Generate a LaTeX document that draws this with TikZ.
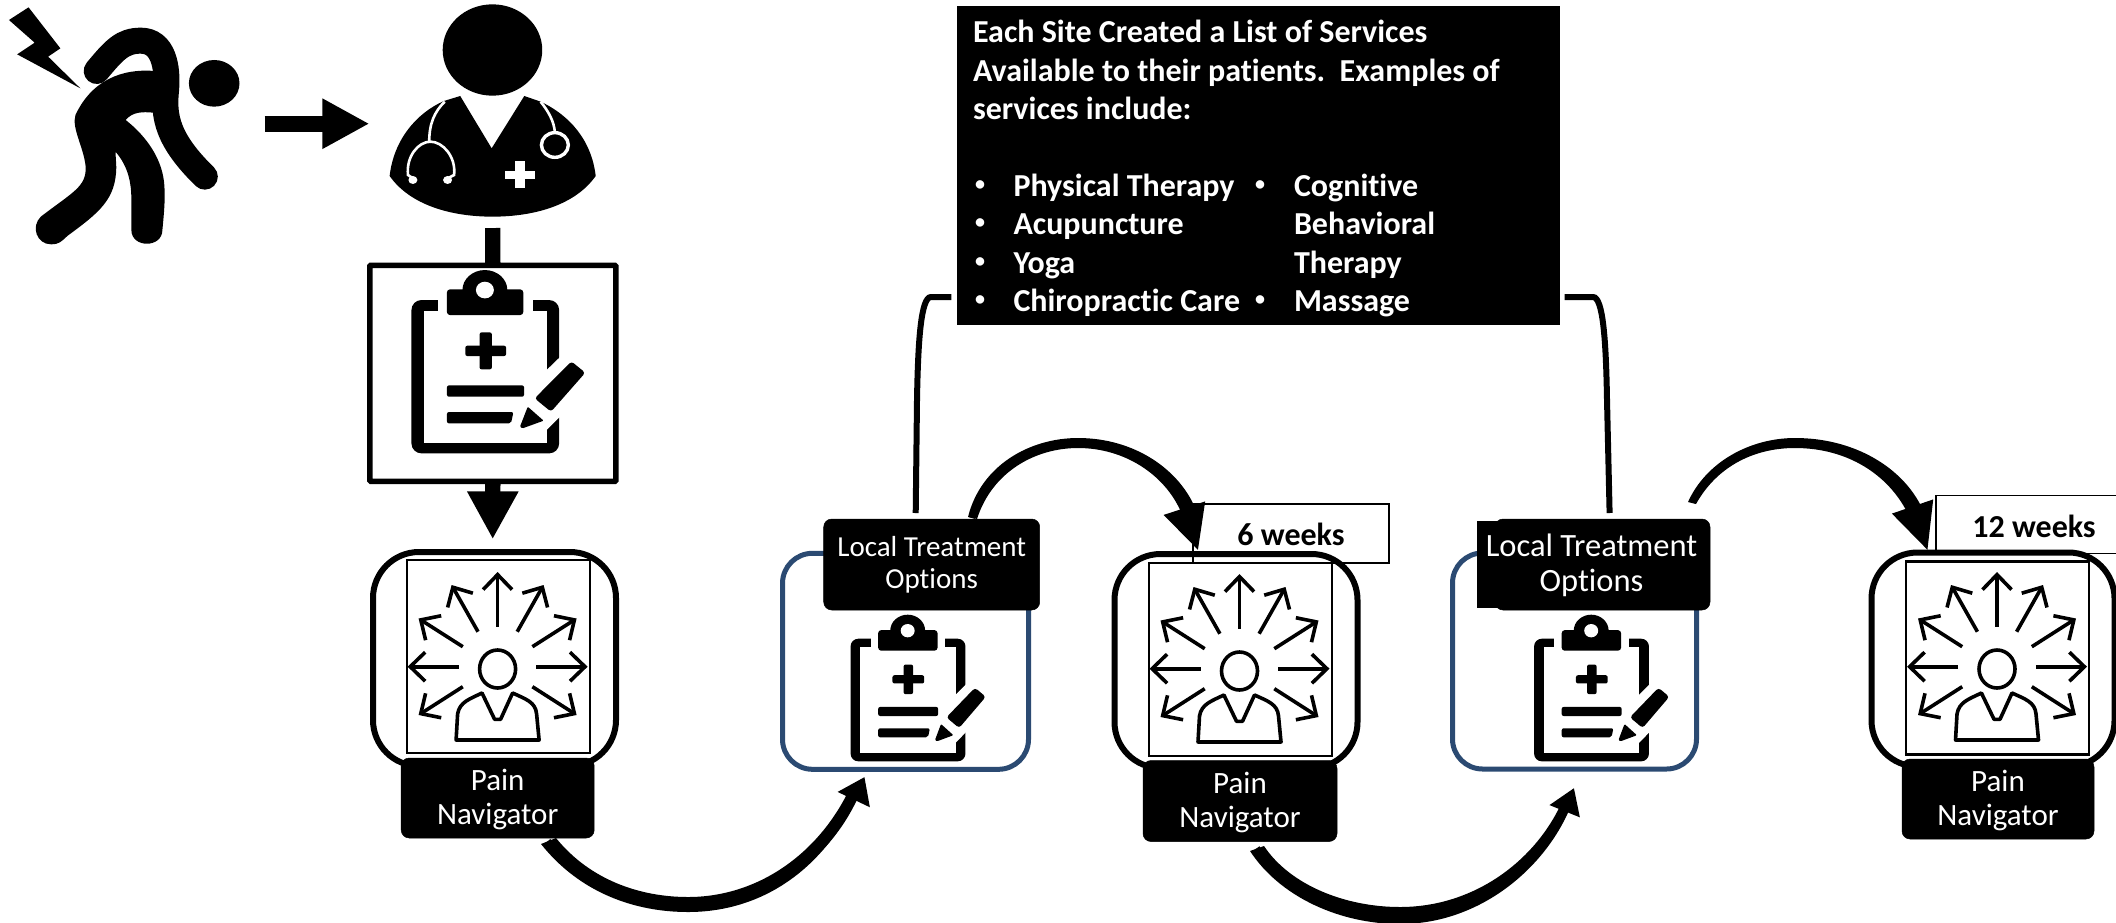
\documentclass[tikz,border=0pt]{standalone}
\usepackage{fontspec}
\setmainfont{Carlito}[Ligatures=NoCommon]
\usetikzlibrary{arrows.meta,shapes.geometric}
\definecolor{navyline}{HTML}{2B4A72}
\tikzset{
  blackbox/.style={draw=black,fill=black,text=white,rounded corners=8pt,inner sep=0pt,outer sep=0pt,align=center,line width=0.5pt},
  navframe/.style={draw=black,line width=6pt,rounded corners=46pt,inner sep=0pt,outer sep=0pt},
  blueframe/.style={draw=navyline,line width=5pt,rounded corners=30pt,inner sep=0pt,outer sep=0pt},
  iconrect/.style={draw=black,line width=2.2pt,inner sep=0pt,outer sep=0pt},
  weekbox/.style={draw=black,fill=white,line width=1.6pt,inner sep=0pt,outer sep=0pt},
  listtext/.style={text=white,font=\fontsize{32}{36}\selectfont\bfseries,anchor=base west,inner sep=0pt,outer sep=0pt},
  bullettext/.style={text=white,font=\fontsize{20}{24}\selectfont\bfseries,anchor=base west,inner sep=0pt,outer sep=0pt},
  flow/.style={draw=black,line width=6pt},
  navline/.style={line width=3.6pt,draw=black,-{Straight Barb[length=15pt,width=29pt,line width=3.6pt]}},
  bracket/.style={draw=black,line width=6pt},
}
\newcommand{\clipicon}[4]{%
\begin{scope}[shift={(#1,#2)},x=#3*0.408pt,y=-#4*0.3333pt]
 \begin{scope}[shift={(-1189,-1130)}]
  \fill[black,rounded corners=10pt*#3] (1008,900) rectangle (1370,1360);
  \fill[white] (1038,933) rectangle (1340,1328);
  \fill[white] (1072,890) rectangle (1306,945);
  \fill[white] (1335,1115) -- (1378,1064) -- (1378,1243) -- (1335,1295) -- cycle;
  \fill[black,rounded corners=3pt] (1095,868) rectangle (1282,945);
  \fill[black] (1188,870) ellipse (55 and 60);
  \fill[white] (1188,870) ellipse (22 and 25);
  \fill[black,rounded corners=2pt] (1140,1037) rectangle (1240,1068);
  \fill[black,rounded corners=2pt] (1175,997) rectangle (1205,1108);
  \fill[black,rounded corners=2pt] (1095,1156) rectangle (1284,1190);
  \fill[black,rounded corners=2pt] (1095,1236) -- (1258,1236) -- (1252,1270) -- (1095,1270) -- cycle;
  \fill[black,rounded corners=3pt] (1310,1195) -- (1400,1084) -- (1434,1118) -- (1350,1235) -- cycle;
  \fill[black,rounded corners=1pt] (1293,1220) -- (1332,1262) -- (1280,1285) -- (1274,1280) -- cycle;
 \end{scope}
\end{scope}}
\newcommand{\navicon}[2]{%
\begin{scope}[shift={(#1,#2)}]
  \draw[line width=3.6pt] (0,0) ellipse (18 and 19);
  \draw[line width=3.6pt,line join=round] (-41.5,71) -- (-40,45) .. controls (-38,33) and (-28,30) .. (-15.6,24) -- (-3,50.3) -- (3,50.3) -- (15,24) .. controls (28,30) and (38,33) .. (39,45) -- (41.5,71) -- cycle;
  \draw[navline] (0,-42.3) -- (0,-97);
  \draw[navline] (19.6,-37.3) -- (46,-84);
  \draw[navline] (-19.6,-37.3) -- (-46,-84);
  \draw[navline] (34.8,-22.3) -- (79,-50.5);
  \draw[navline] (-34.8,-22.3) -- (-79,-50.5);
  \draw[navline] (38.8,-2.3) -- (90,-2.3);
  \draw[navline] (-38.8,-2.3) -- (-90,-2.3);
  \draw[navline] (34.8,17.7) -- (79,46);
  \draw[navline] (-34.8,17.7) -- (-79,46);
\end{scope}}
\begin{document}
\begin{tikzpicture}[x=1pt,y=-1pt]
\useasboundingbox (0,0) rectangle (2116,922);
\clip (0,0) rectangle (2116,922);
\fill[white] (0,0) rectangle (2116,922);

\begin{scope}[x=0.408pt,y=-0.3333pt]
  \fill[black] (22,60) -- (70,22) -- (148,145) -- (118,170) -- (197,265) -- (42,163) -- (85,128) -- cycle;
  \fill[black] (525,250) ellipse (62 and 70);
  \fill[black] (378,213) .. controls (300,205) and (225,240) .. (185,345)
     .. controls (175,385) and (205,440) .. (210,500)
     .. controls (212,560) and (180,575) .. (100,650)
     .. controls (75,680) and (90,733) .. (125,733)
     .. controls (145,733) and (150,725) .. (165,708)
     .. controls (240,640) and (285,600) .. (285,500) -- (283,455)
     .. controls (315,500) and (322,550) .. (322,600) -- (322,690)
     .. controls (322,745) and (398,745) .. (398,690)
     .. controls (402,640) and (405,600) .. (403,560)
     .. controls (400,480) and (360,410) .. (308,360)
     .. controls (325,335) and (350,335) .. (375,338) -- cycle;
  \draw[black,line width=26pt,line cap=round] (237,213) .. controls (280,150) and (300,122) .. (345,122)
     .. controls (400,122) and (412,200) .. (407,270)
     .. controls (400,350) and (410,420) .. (502,530);
\end{scope}
\coordinate (painout) at (264.5,123.7);

\begin{scope}[x=0.408pt,y=-0.3333pt]
  \fill[black] (1207,150) ellipse (122 and 137);
  \fill[black] (955,528) .. controls (965,420) and (1020,340) .. (1088,303) -- (1128,288) -- (1205,445) -- (1285,288) -- (1325,305)
     .. controls (1395,345) and (1450,420) .. (1460,528)
     .. controls (1410,615) and (1310,650) .. (1207,650)
     .. controls (1105,650) and (1005,615) .. (955,528) -- cycle;
  \draw[white,line width=2.6pt] (1090,305) .. controls (1065,335) and (1052,370) .. (1052,425);
  \draw[white,line width=2.6pt] (1012,535) -- (1000,525) .. controls (995,470) and (1025,425) .. (1055,425)
     .. controls (1085,425) and (1118,470) .. (1113,525) -- (1097,535);
  \fill[white] (1012,540) ellipse (11 and 12);
  \fill[white] (1097,540) ellipse (11 and 12);
  \draw[white,line width=2.6pt] (1325,305) .. controls (1345,335) and (1358,365) .. (1360,397);
  \draw[white,line width=3.4pt] (1360,435) ellipse (33 and 37);
  \fill[white] (1238,512) rectangle (1312,536);
  \fill[white] (1263,483) rectangle (1287,564);
\end{scope}
\coordinate (doctorin) at (369.4,123.7);
\coordinate (doctorout) at (492.7,228);
\draw[black,line width=16pt,-{Triangle[length=47pt,width=47pt]}] (painout) -- (doctorin);

\node[draw=black,line width=5.5pt,minimum width=246pt,minimum height=216pt,inner sep=0pt,outer sep=0pt,rounded corners=1pt] (assess) at (492.8,373.3) {};
\clipicon{485.3}{376.7}{1}{1}
\draw[black,line width=15.4pt] (doctorout) -- (assess.north);
\coordinate (nav1in) at (492.7,539.3);
\draw[black,line width=15.4pt,-{Triangle[length=48pt,width=48pt]}] (assess.south) -- (nav1in);

\node[weekbox,minimum width=196pt,minimum height=59pt] (week6) at (1291,533.5) {};
\node[weekbox,minimum width=190pt,minimum height=58pt] (week12) at (2031,524.5) {};
\node[font=\fontsize{32}{36}\selectfont\bfseries,inner sep=0pt] (week6t) at (1291,534) {6 weeks};
\node[font=\fontsize{32}{36}\selectfont\bfseries,inner sep=0pt] (week12t) at (2034,526.5) {12 weeks};

\node[navframe,minimum width=243pt,minimum height=214pt] (nav1) at (494.5,659) {};
\node[navframe,minimum width=243pt,minimum height=214pt] (nav2) at (1236,661) {};
\node[navframe,minimum width=243pt,minimum height=214pt] (nav3) at (1993,659.5) {};
\node[iconrect,fill=white,minimum width=183pt,minimum height=193pt] (nav1i) at (498.5,656.5) {};
\node[iconrect,fill=white,minimum width=183pt,minimum height=193pt] (nav2i) at (1240.5,659.5) {};
\node[iconrect,fill=white,minimum width=183pt,minimum height=193pt] (nav3i) at (1997.5,658) {};
\navicon{497.6}{669}
\navicon{1239.5}{671}
\navicon{1997}{669}
\node[blackbox,minimum width=193pt,minimum height=80pt] (nav1l) at (497.7,798) {};
\node[blackbox,minimum width=194pt,minimum height=81pt] (nav2l) at (1240,801) {};
\node[blackbox,minimum width=192pt,minimum height=80pt] (nav3l) at (1998,799) {};
\node[text=white,align=center,inner sep=0pt,font=\fontsize{31}{34}\selectfont] (nav1t) at (497.7,799) {Pain\\Navigator};
\node[text=white,align=center,inner sep=0pt,font=\fontsize{31}{34}\selectfont] (nav2t) at (1240,802) {Pain\\Navigator};
\node[text=white,align=center,inner sep=0pt,font=\fontsize{31}{34}\selectfont] (nav3t) at (1998,800) {Pain\\Navigator};

\node[blueframe,minimum width=246pt,minimum height=216pt] (opt1) at (905.5,661.3) {};
\node[blueframe,minimum width=244pt,minimum height=216pt] (opt2) at (1574.5,661) {};
\clipicon{908}{700}{0.778}{0.80}
\clipicon{1591.5}{700}{0.778}{0.80}
\node[blackbox,minimum width=216pt,minimum height=91pt,font=\fontsize{29}{32}\selectfont] (lto1) at (931.7,564.5) {Local Treatment\\Options};
\fill[black] (1477,521) rectangle (1500,608);
\node[blackbox,minimum width=215pt,minimum height=91pt] (lto2) at (1602.5,564.5) {};
\node[text=white,align=center,inner sep=0pt,font=\fontsize{32.5}{35}\selectfont] (lto2t) at (1591.5,565) {Local Treatment\\Options};

\node[fill=black,minimum width=603pt,minimum height=319.5pt,inner sep=0pt,outer sep=0pt] (services) at (1258,165.4) {};
\node[listtext] (s1) at (973,42.5) {Each Site Created a List of Services};
\node[listtext] (s2) at (973,81) {Available to their patients.\ \ Examples of};
\node[listtext] (s3) at (973,119) {services include:};
\node[bullettext] (b1) at (975,190) {•};
\node[bullettext] (b2) at (975,228) {•};
\node[bullettext] (b3) at (975,267) {•};
\node[bullettext] (b4) at (975,305) {•};
\node[listtext] (l1) at (1013.5,196) {Physical Therapy};
\node[listtext] (l2) at (1013.5,234) {Acupuncture};
\node[listtext] (l3) at (1013.5,273) {Yoga};
\node[listtext] (l4) at (1013.5,311) {Chiropractic Care};
\node[bullettext] (b5) at (1255,190) {•};
\node[bullettext] (b6) at (1255,305) {•};
\node[listtext] (r1) at (1294,196) {Cognitive};
\node[listtext] (r2) at (1294,234) {Behavioral};
\node[listtext] (r3) at (1294,273) {Therapy};
\node[listtext] (r4) at (1294,311) {Massage};

\coordinate (lt1up) at (915.7,513);
\coordinate (sl) at (951.4,297);
\coordinate (lt2up) at (1609.6,513);
\coordinate (sr) at (1564.7,297);
\draw[bracket] (lt1up) -- (917,400) .. controls (918,340) and (921,297) .. (931,297) -- (sl);
\draw[bracket] (lt2up) -- (1607,400) .. controls (1606,340) and (1603,297) .. (1593,297) -- (sr);

\coordinate (a1s) at (548,841);\coordinate (a1e) at (864.5,777);
\coordinate (a2s) at (972,518);\coordinate (a2e) at (1198,550);
\coordinate (a3s) at (1257,848);\coordinate (a3e) at (1574,788);
\coordinate (a4s) at (1692,502);\coordinate (a4e) at (1927.5,550);
\draw[flow,-{Triangle[length=25pt,width=34pt]}] (a1s) .. controls (585,885) and (635,904) .. (688,904) .. controls (765,904) and (825,860) .. (a1e);
\fill[black] (541,844) .. controls (580,893) and (635,912) .. (688,912) .. controls (765,912) and (825,866) .. (856,798) -- (847,794) .. controls (816,855) and (757,897) .. (688,897) .. controls (640,897) and (590,880) .. (556,838) -- cycle;
\draw[flow,-{Triangle[length=44pt,width=42pt]}] (a2s) .. controls (985,470) and (1030,443) .. (1078,443) .. controls (1130,443) and (1172,470) .. (a2e);
\fill[black] (968,517) .. controls (981,465) and (1030,438) .. (1078,438) .. controls (1135,438) and (1180,470) .. (1196,510) -- (1181,512) .. controls (1165,475) and (1125,448) .. (1078,448) .. controls (1035,448) and (992,472) .. (977,519) -- cycle;
\draw[flow,-{Triangle[length=25pt,width=31pt]}] (a3s) .. controls (1285,890) and (1340,914) .. (1400,914) .. controls (1480,914) and (1545,860) .. (a3e);
\fill[black] (1250,851) .. controls (1280,897) and (1340,924) .. (1400,924) .. controls (1480,924) and (1545,868) .. (1570,808) -- (1561,804) .. controls (1535,860) and (1475,907) .. (1400,907) .. controls (1345,907) and (1290,885) .. (1264,846) -- cycle;
\draw[flow,-{Triangle[length=46pt,width=42pt]}] (a4s) .. controls (1710,465) and (1750,443) .. (1795,443) .. controls (1850,443) and (1900,470) .. (a4e);
\fill[black] (1688,502) .. controls (1706,462) and (1750,438) .. (1795,438) .. controls (1855,438) and (1903,468) .. (1922,508) -- (1907,512) .. controls (1888,475) and (1848,448) .. (1795,448) .. controls (1752,448) and (1716,468) .. (1696,504) -- cycle;
\end{tikzpicture}
\end{document}
